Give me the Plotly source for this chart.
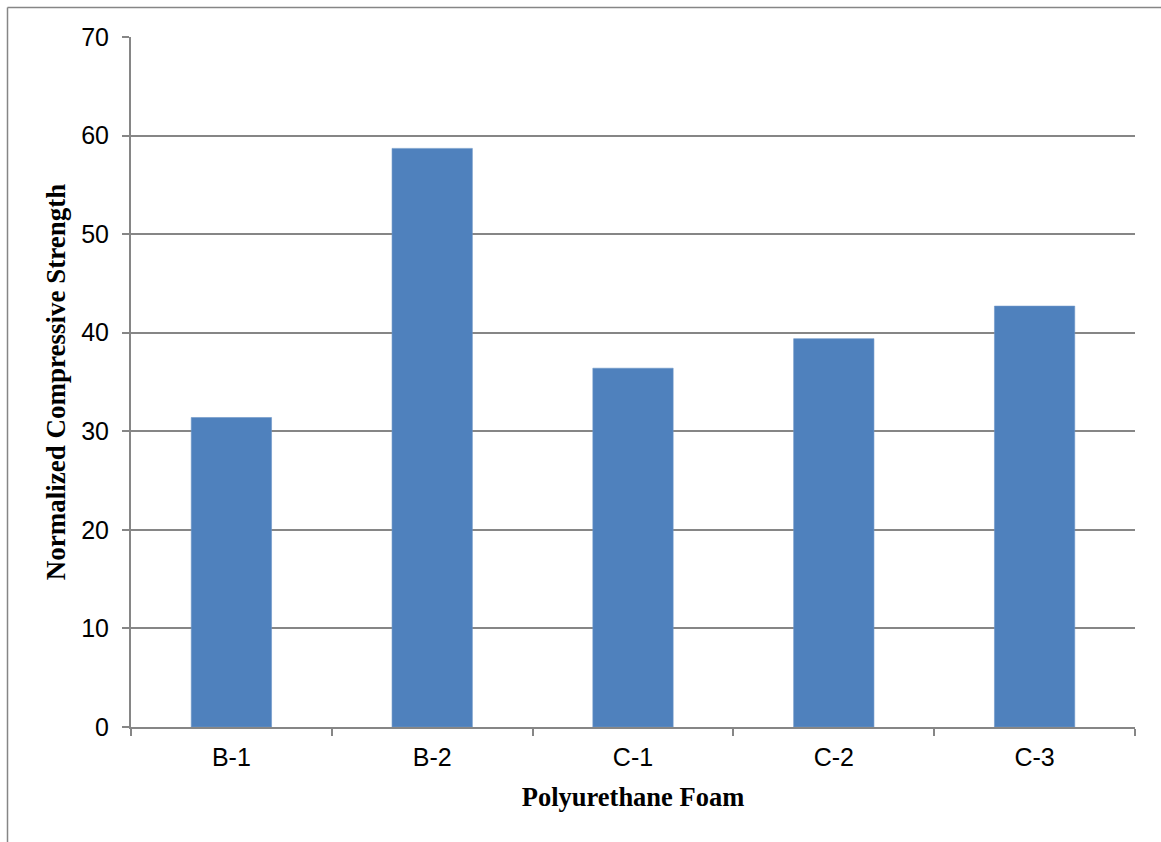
import plotly.graph_objects as go

# Normalized compressive strength per polyurethane foam sample
foams = ["B-1", "B-2", "C-1", "C-2", "C-3"]
strength = [31.4, 58.7, 36.4, 39.4, 42.7]
y_ticks = [0, 10, 20, 30, 40, 50, 60, 70]

W, H = 1161, 842
L, R, T, B = 131, 26, 37, 115
pw, ph = W - L - R, H - T - B

AXIS_GRAY = "#868686"
SERIF = "Liberation Serif, Times New Roman"

fig = go.Figure(
    go.Bar(
        x=foams,
        y=strength,
        marker=dict(color="#4F81BD", line=dict(color="#6E97C8", width=0.6)),
        width=0.4,
    )
)

fig.update_layout(
    width=W,
    height=H,
    margin=dict(l=L, r=R, t=T, b=B),
    plot_bgcolor="white",
    paper_bgcolor="white",
    showlegend=False,
    font=dict(family="Liberation Sans, Arial", size=25, color="black"),
)

fig.update_xaxes(
    showline=True,
    linecolor=AXIS_GRAY,
    linewidth=2,
    ticks="outside",
    tickson="boundaries",
    ticklen=7,
    tickcolor=AXIS_GRAY,
    tickwidth=1.5,
    showgrid=False,
    tickfont=dict(size=25),
    ticklabelstandoff=7,
    title=dict(text="<b>Polyurethane Foam</b>",
               font=dict(family=SERIF, size=26.5), standoff=17),
)

fig.update_yaxes(
    range=[0, 70],
    tickvals=y_ticks,
    showline=True,
    linecolor=AXIS_GRAY,
    linewidth=2,
    ticks="outside",
    ticklen=7,
    tickcolor=AXIS_GRAY,
    tickwidth=1.5,
    showgrid=True,
    gridcolor=AXIS_GRAY,
    gridwidth=1.5,
    zeroline=False,
    tickfont=dict(size=25),
    ticklabelstandoff=8,
    title=dict(text="<b>Normalized Compressive Strength</b>",
               font=dict(family=SERIF, size=27), standoff=8),
)

# Outer chart frame (top and left edges)
fx0 = (7.5 - L) / pw
fy_top = 1 + (T - 7.5) / ph
fy_bot = -(H - T - ph) / ph - 0.01
fx1 = (W - L) / pw + 0.01
fig.add_shape(type="line", xref="paper", yref="paper",
              x0=fx0, x1=fx1, y0=fy_top, y1=fy_top,
              line=dict(color=AXIS_GRAY, width=1.5))
fig.add_shape(type="line", xref="paper", yref="paper",
              x0=fx0, x1=fx0, y0=fy_top, y1=fy_bot,
              line=dict(color=AXIS_GRAY, width=1.5))

fig.write_html("out.html")
